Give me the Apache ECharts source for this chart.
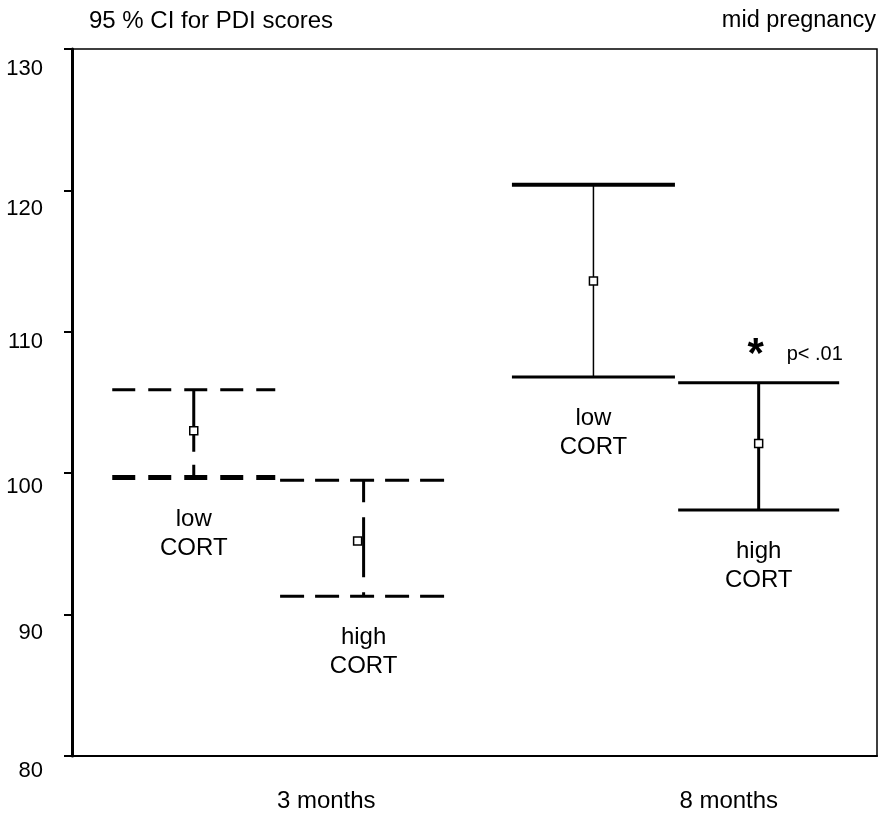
<!DOCTYPE html>
<html>
<head>
<meta charset="utf-8">
<script src="https://cdn.jsdelivr.net/npm/echarts@6/dist/echarts.min.js"></script>
<style>
  html, body { margin: 0; padding: 0; background: #fff; }
  #chart { width: 883px; height: 813px; }
</style>
</head>
<body>
<div id="chart"></div>
<script>
// time points on the x axis
const timepoints = ['3 months', '8 months'];
const yTicks = [80, 90, 100, 110, 120, 130];

// 95% CI for PDI scores, by cortisol group
const lowMean  = [103.0, 113.6];
const lowUpper = [105.9, 120.4];
const lowLower = [99.7, 106.8];

const highMean  = [95.2, 102.1];
const highUpper = [99.5, 106.4];
const highLower = [91.3, 97.4];

const highNote = ['', 'p< .01'];

const FONT = '"Liberation Sans", Arial, sans-serif';

// y labels sit a bit below their ticks in the original (px down)
const yLabelDrop = {80: 15, 90: 18, 100: 14, 110: 10, 120: 19, 130: 20};

// look of each error bar: [series][timepoint]  (from/to = fraction of band)
const barLook = {
    'low CORT': [
        {from: -0.400, to: 0.005, dash: [23, 13], wDash: [62, 13], capTop: 3, capBot: 5, whisker: 3, markDx: 0},
        {from: -0.407, to: -0.002, dash: null, wDash: null, capTop: 4, capBot: 3, whisker: 1.5, markDx: 0}
    ],
    'high CORT': [
        {from: 0.017, to: 0.432, dash: [24, 11], wDash: [22, 15, 60, 15], capTop: 3, capBot: 3, whisker: 3, markDx: -6},
        {from: 0.006, to: 0.406, dash: null, wDash: null, capTop: 3, capBot: 3, whisker: 3, markDx: 0}
    ]
};

function makeData(lower, upper, mean){
    return timepoints.map(function(t, i){ return [i, lower[i], upper[i], mean[i]]; });
}

function renderBar(params, api){
    const look = barLook[params.seriesName][params.dataIndex];
    const cat = api.value(0);
    const bw = api.size([1, 0])[0];
    const pLo = api.coord([cat, api.value(1)]);
    const pHi = api.coord([cat, api.value(2)]);
    const pM = api.coord([cat, api.value(3)]);
    const x0 = pM[0] + look.from * bw;
    const x1 = pM[0] + look.to * bw;
    const xm = (x0 + x1) / 2;
    const children = [
        {type: 'line', shape: {x1: xm, y1: pHi[1], x2: xm, y2: pLo[1]},
            style: {stroke: '#000', lineWidth: look.whisker, lineDash: look.wDash}},
        {type: 'line', shape: {x1: x0, y1: pHi[1], x2: x1, y2: pHi[1]},
            style: {stroke: '#000', lineWidth: look.capTop, lineDash: look.dash}},
        {type: 'line', shape: {x1: x0, y1: pLo[1], x2: x1, y2: pLo[1]},
            style: {stroke: '#000', lineWidth: look.capBot, lineDash: look.dash}},
        {type: 'rect', shape: {x: xm + look.markDx - 4, y: pM[1] - 4, width: 8, height: 8},
            style: {fill: '#fff', stroke: '#000', lineWidth: 1.5}},
        {type: 'text', style: {text: params.seriesName.replace(' ', '\n'), x: xm, y: pLo[1] + 27,
            fill: '#000', fontSize: 24, fontFamily: FONT, lineHeight: 29, align: 'center', verticalAlign: 'top'}}
    ];
    if (params.seriesName === 'high CORT' && highNote[params.dataIndex]) {
        children.push({type: 'text', style: {text: '*', x: xm - 3, y: pHi[1] - 48,
            fill: '#000', fontSize: 42, fontWeight: 'bold', fontFamily: FONT, align: 'center', verticalAlign: 'top'}});
        children.push({type: 'text', style: {text: highNote[params.dataIndex], x: xm + 28, y: pHi[1] - 28,
            fill: '#000', fontSize: 20, fontFamily: FONT, align: 'left', verticalAlign: 'middle'}});
    }
    return {type: 'group', children: children};
}

// rich styles so each y label can drop below its tick
let yRich = {};
yTicks.forEach(function(v){
    yRich['t' + v] = {fontSize: 22, fontFamily: FONT, color: '#000', padding: [2 * yLabelDrop[v], 0, 0, 0]};
});

let chart = echarts.init(document.getElementById('chart'), null, {renderer: 'canvas'});
let option = {
    backgroundColor: '#fff',
    animation: false,
    textStyle: {fontFamily: FONT, color: '#000'},
    title: [
        {text: '95 % CI for PDI scores', left: 84, top: 4,
            textStyle: {fontSize: 24, fontWeight: 'normal', color: '#000', fontFamily: FONT}},
        {text: 'mid pregnancy', right: 2, top: 4,
            textStyle: {fontSize: 23.5, fontWeight: 'normal', color: '#000', fontFamily: FONT}}
    ],
    grid: {left: 72, right: 6, top: 49, bottom: 57, show: true, borderColor: '#000', borderWidth: 1.5},
    xAxis: {
        type: 'category',
        data: timepoints,
        boundaryGap: true,
        axisLine: {lineStyle: {color: '#000', width: 2}},
        axisTick: {alignWithLabel: true, length: 5, lineStyle: {color: '#000', width: 2}},
        axisLabel: {color: '#000', fontSize: 24, fontFamily: FONT, margin: 33, padding: [0, 0, 0, 106]},
        splitLine: {show: false}
    },
    yAxis: {
        type: 'value',
        min: yTicks[0],
        max: yTicks[yTicks.length - 1],
        interval: 10,
        axisLine: {show: true, lineStyle: {color: '#000', width: 3}},
        axisTick: {show: true, length: 8, lineStyle: {color: '#000', width: 2}},
        axisLabel: {
            color: '#000', fontSize: 22, fontFamily: FONT, margin: 29,
            formatter: function(v){ return '{t' + v + '|' + v + '}'; },
            rich: yRich
        },
        splitLine: {show: false}
    },
    series: [
        {name: 'low CORT', type: 'custom', renderItem: renderBar, clip: false,
            encode: {x: 0, y: [1, 2, 3]}, data: makeData(lowLower, lowUpper, lowMean)},
        {name: 'high CORT', type: 'custom', renderItem: renderBar, clip: false,
            encode: {x: 0, y: [1, 2, 3]}, data: makeData(highLower, highUpper, highMean)}
    ]
};
chart.setOption(option);

window.onresize = function () {
    chart.resize();
};
</script>
</body>
</html>
